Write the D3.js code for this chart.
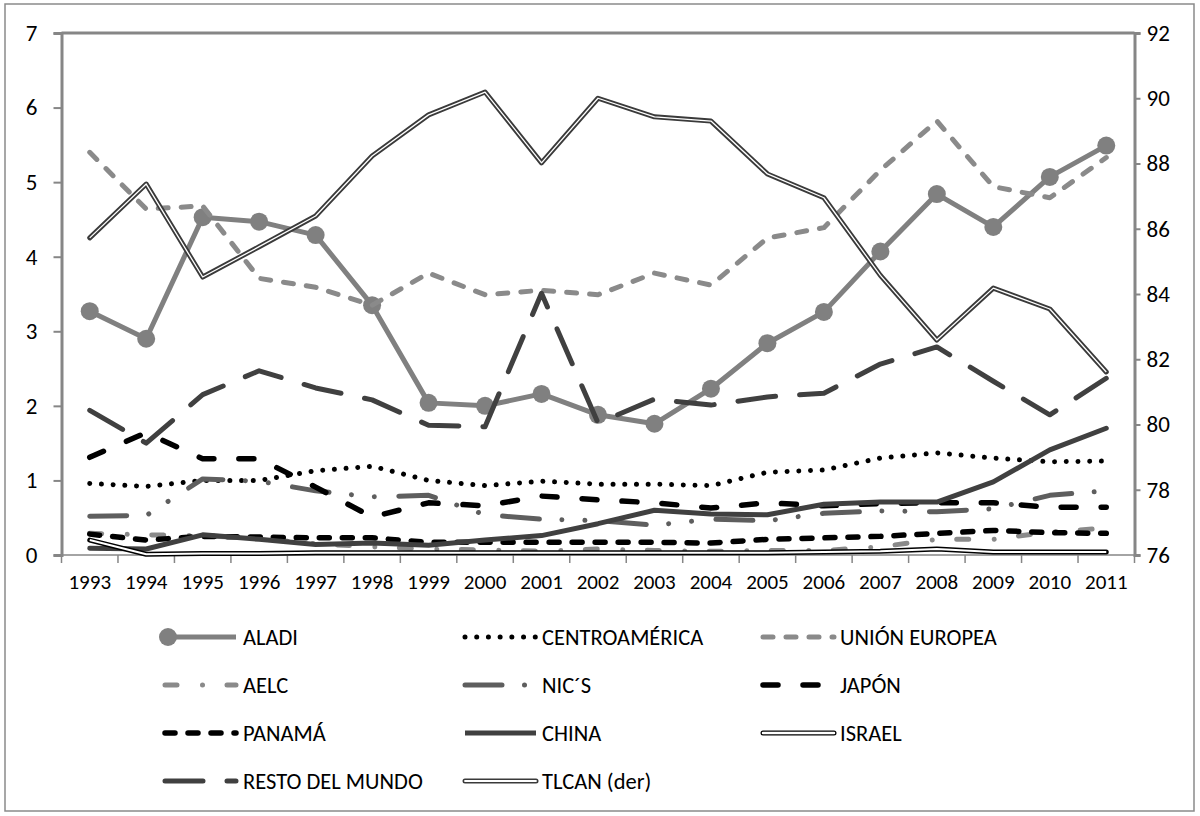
<!DOCTYPE html>
<html>
<head>
<meta charset="utf-8">
<script src="https://cdn.jsdelivr.net/npm/d3@7/dist/d3.min.js"></script>
<style>
  html, body { margin: 0; padding: 0; background: #fff; }
  svg { display: block; }
  text { font-family: Carlito, Calibri, Lato, sans-serif; fill: #000; }
</style>
</head>
<body>
<svg id="chart" width="1200" height="816"></svg>
<script>
// Years on the category axis
const years = ["1993","1994","1995","1996","1997","1998","1999","2000","2001","2002",
               "2003","2004","2005","2006","2007","2008","2009","2010","2011"];

// Left-axis series (%)
const aladi   = [3.27,2.90,4.53,4.47,4.29,3.35,2.04,2.00,2.16,1.88,1.76,2.23,2.84,3.26,4.07,4.84,4.40,5.07,5.49];
const centro  = [0.96,0.92,1.00,1.00,1.13,1.19,1.00,0.93,0.99,0.95,0.95,0.93,1.11,1.14,1.30,1.37,1.30,1.25,1.26];
const ue      = [5.40,4.64,4.68,3.71,3.59,3.35,3.78,3.49,3.55,3.49,3.78,3.62,4.25,4.39,5.16,5.82,4.94,4.79,5.33];
const aelc    = [0.29,0.27,0.26,0.22,0.15,0.11,0.08,0.07,0.05,0.08,0.06,0.05,0.06,0.06,0.11,0.21,0.21,0.31,0.36];
const nics    = [0.52,0.53,1.02,0.99,0.86,0.78,0.80,0.54,0.48,0.46,0.40,0.48,0.46,0.56,0.59,0.58,0.62,0.80,0.86];
const japon   = [1.31,1.64,1.29,1.29,0.91,0.51,0.70,0.66,0.79,0.74,0.70,0.63,0.70,0.66,0.69,0.70,0.70,0.64,0.64];
const panama  = [0.28,0.20,0.25,0.24,0.23,0.23,0.17,0.17,0.17,0.17,0.17,0.16,0.21,0.23,0.25,0.29,0.33,0.30,0.29];
const china   = [0.09,0.08,0.27,0.21,0.14,0.16,0.13,0.20,0.26,0.42,0.60,0.55,0.54,0.68,0.71,0.71,0.98,1.41,1.70];
const israel  = [0.20,0.01,0.02,0.02,0.03,0.03,0.03,0.03,0.03,0.03,0.03,0.03,0.03,0.04,0.05,0.08,0.04,0.04,0.04];
const resto   = [1.94,1.50,2.15,2.47,2.24,2.08,1.74,1.72,3.51,1.77,2.09,2.01,2.12,2.17,2.56,2.79,2.33,1.88,2.37];
// Right-axis series (%)
const tlcan   = [85.72,87.37,84.52,85.45,86.39,88.23,89.49,90.19,88.02,90.00,89.43,89.30,87.68,86.95,84.57,82.59,84.18,83.54,81.61];

// Axis ticks
const leftTicks  = [0,1,2,3,4,5,6,7];
const rightTicks = [76,78,80,82,84,86,88,90,92];

const svg = d3.select("#chart");
const FONT = "Carlito, Calibri, Lato, sans-serif";

// Plot frame
const L = 61.5, R = 1134.5, T = 33, B = 555;

const x = d3.scaleBand().domain(years).range([L, R]).padding(0);
const cx = d => x(d) + x.bandwidth() / 2;
const yL = d3.scaleLinear().domain([0, 7]).range([B, T]);
const yR = d3.scaleLinear().domain([76, 92]).range([B, T]);

// Outer border
svg.append("rect").attr("x", 5).attr("y", 4).attr("width", 1189).attr("height", 807)
  .attr("fill", "#fff").attr("stroke", "#8a8a8a").attr("stroke-width", 1.5);

// Plot area frame
const axisColor = "#868686";
svg.append("line").attr("x1", L).attr("x2", R).attr("y1", T).attr("y2", T)
  .attr("stroke", axisColor).attr("stroke-width", 3);
svg.append("line").attr("x1", L).attr("x2", R).attr("y1", B).attr("y2", B)
  .attr("stroke", axisColor).attr("stroke-width", 1.5);

// Left axis
const gL = svg.append("g").attr("transform", `translate(${L},0)`)
  .call(d3.axisLeft(yL).tickValues(leftTicks).tickSize(8).tickPadding(16).tickFormat(d3.format("d")));
gL.select(".domain").attr("stroke", axisColor).attr("stroke-width", 3);
gL.selectAll(".tick line").attr("stroke", axisColor).attr("stroke-width", 2);
gL.selectAll(".tick text").style("font-size", "23px").style("font-family", FONT);

// Right axis
const gR = svg.append("g").attr("transform", `translate(${R},0)`)
  .call(d3.axisRight(yR).tickValues(rightTicks).tickSize(6).tickPadding(6).tickFormat(d3.format("d")));
gR.select(".domain").attr("stroke", axisColor).attr("stroke-width", 3);
gR.selectAll(".tick line").attr("stroke", axisColor).attr("stroke-width", 2);
gR.selectAll(".tick text").style("font-size", "23px").style("font-family", FONT);

// Category axis: labels at band centres, tick marks at band edges
const gX = svg.append("g").attr("transform", `translate(0,${B})`)
  .call(d3.axisBottom(x).tickSize(0).tickPadding(19));
gX.select(".domain").remove();
gX.selectAll(".tick text").style("font-size", "21px").style("font-family", FONT);
const edges = years.map(y => x(y)).concat([R]);
svg.append("g").selectAll("line").data(edges).join("line")
  .attr("x1", d => d).attr("x2", d => d).attr("y1", B).attr("y2", B + 8)
  .attr("stroke", axisColor).attr("stroke-width", 1.5);

// Series styles
const series = [
  { name: "ALADI",           values: aladi,  axis: "L", color: "#808080", width: 5,   dash: null, marker: true },
  { name: "CENTROAMÉRICA",   values: centro, axis: "L", color: "#000000", width: 5,   dash: "0.01 11.7" },
  { name: "UNIÓN EUROPEA",   values: ue,     axis: "L", color: "#8a8a8a", width: 5,   dash: "10 13" },
  { name: "AELC",            values: aelc,   axis: "L", color: "#8a8a8a", width: 5,   dash: "12 25.5 0.01 24.5" },
  { name: "NIC\u00B4S",      values: nics,   axis: "L", color: "#5e5e5e", width: 5,   dash: "37 22.5 0.01 23 0.01 24.5" },
  { name: "JAPÓN",           values: japon,  axis: "L", color: "#000000", width: 5.5, dash: "15 25" },
  { name: "PANAMÁ",          values: panama, axis: "L", color: "#000000", width: 5.5, dash: "10 13" },
  { name: "CHINA",           values: china,  axis: "L", color: "#404040", width: 5,   dash: null },
  { name: "ISRAEL",          values: israel, axis: "L", color: "#000000", width: 5,   dash: null, double: 2 },
  { name: "RESTO DEL MUNDO", values: resto,  axis: "L", color: "#404040", width: 5,   dash: "38 24" },
  { name: "TLCAN (der)",     values: tlcan,  axis: "R", color: "#3a3a3a", width: 5,   dash: null, double: 1.3 }
];

const plot = svg.append("g");
series.forEach(s => {
  const ys = s.axis === "L" ? yL : yR;
  const line = d3.line().x((d, i) => cx(years[i])).y(d => ys(d));
  const path = plot.append("path").datum(s.values).attr("d", line)
    .attr("fill", "none").attr("stroke", s.color).attr("stroke-width", s.width)
    .attr("stroke-linecap", "round").attr("stroke-linejoin", "round");
  if (s.dash) path.attr("stroke-dasharray", s.dash);
  if (s.double) {
    plot.append("path").datum(s.values).attr("d", line)
      .attr("fill", "none").attr("stroke", "#fff").attr("stroke-width", s.double)
      .attr("stroke-linejoin", "round");
  }
  if (s.marker) {
    plot.append("g").selectAll("circle").data(s.values).join("circle")
      .attr("cx", (d, i) => cx(years[i])).attr("cy", d => ys(d)).attr("r", 9)
      .attr("fill", s.color);
  }
});

// Legend: three columns, four rows
const colX = [165, 465, 763];
const textX = [243, 542, 840];
const rowY = [637, 685, 733, 781];
const legend = svg.append("g");
series.forEach((s, i) => {
  const c = i % 3, r = Math.floor(i / 3);
  const y0 = rowY[r], x0 = colX[c], x1 = colX[c] + 71;
  const seg = legend.append("line").attr("x1", x0).attr("x2", x1).attr("y1", y0).attr("y2", y0)
    .attr("stroke", s.color).attr("stroke-width", s.width).attr("stroke-linecap", s.dash ? "round" : "butt");
  if (s.dash) seg.attr("stroke-dasharray", s.dash);
  if (s.double) {
    seg.attr("stroke-linecap", "round");
    legend.append("line").attr("x1", x0).attr("x2", x1).attr("y1", y0).attr("y2", y0)
      .attr("stroke", "#fff").attr("stroke-width", s.double + 0.5).attr("stroke-linecap", "round");
  }
  if (s.marker) {
    legend.append("circle").attr("cx", x0 + 3).attr("cy", y0).attr("r", 9).attr("fill", s.color);
  }
  legend.append("text").attr("x", textX[c]).attr("y", y0).attr("dy", "0.36em")
    .style("font-size", "22.5px").text(s.name);
});
</script>
</body>
</html>
